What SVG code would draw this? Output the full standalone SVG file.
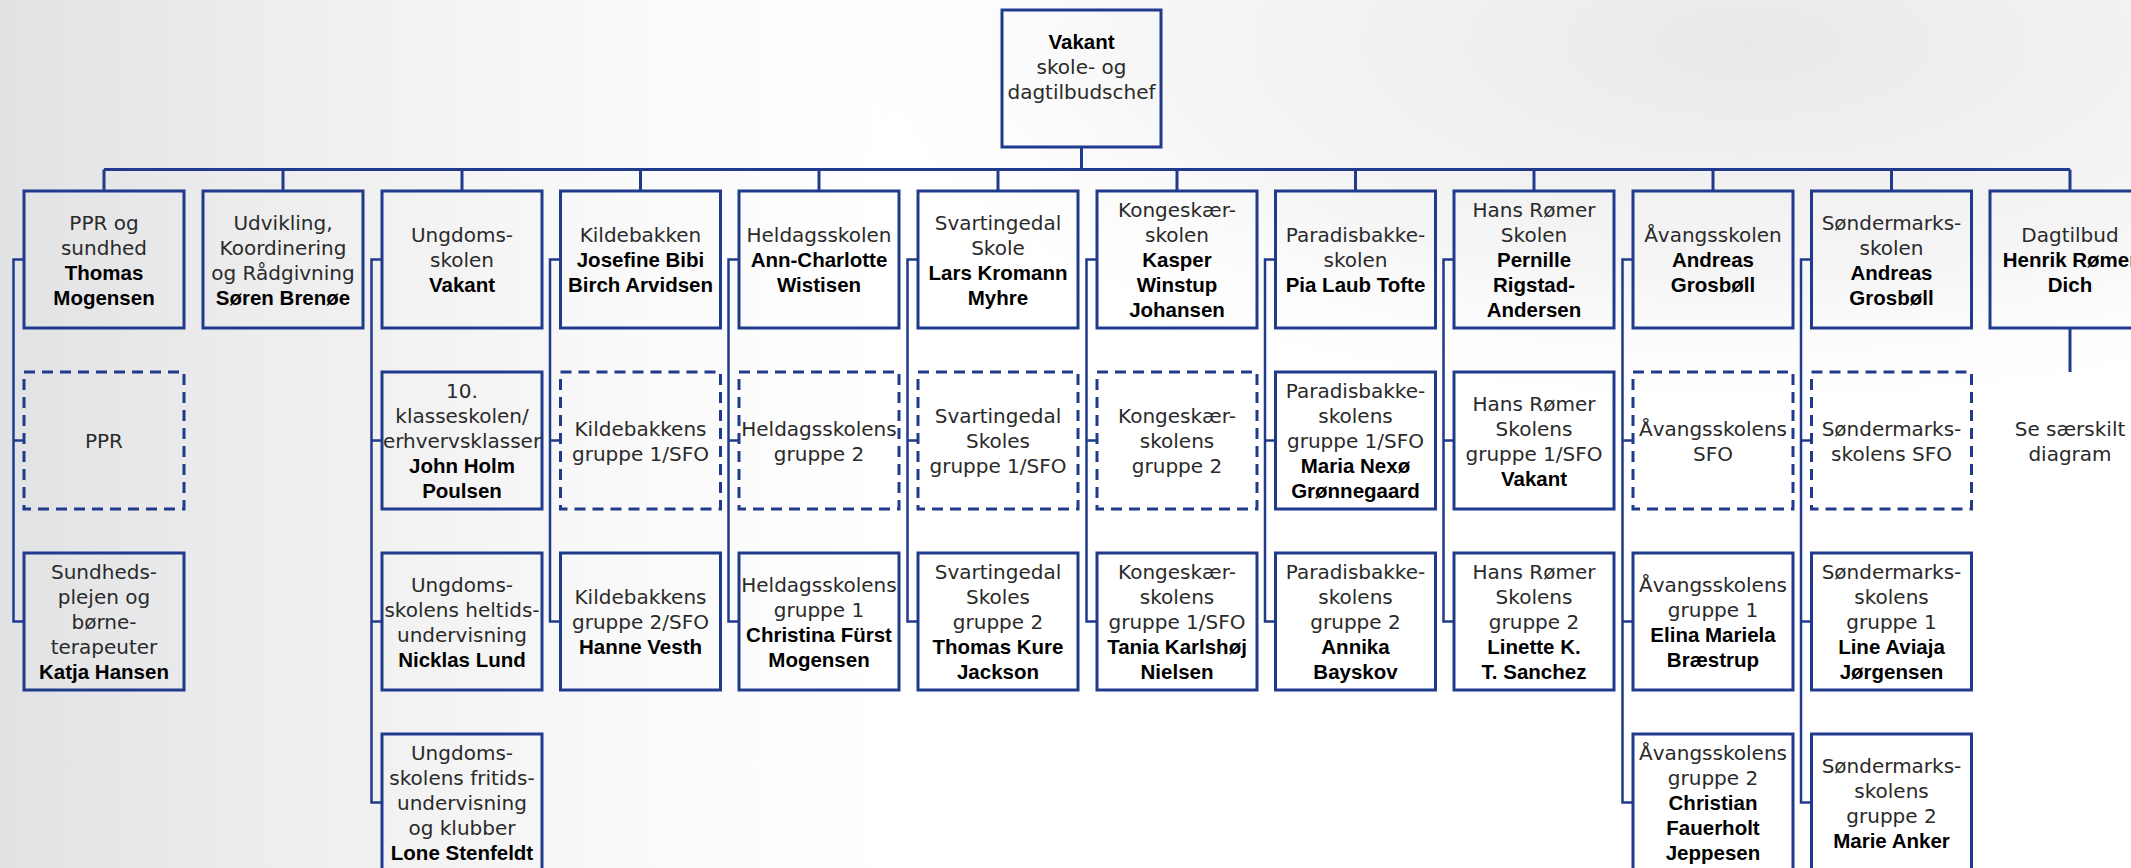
<svg xmlns="http://www.w3.org/2000/svg" width="2131" height="868" viewBox="0 0 2131 868">
<defs>
<linearGradient id="bgL" x1="0" y1="0" x2="1" y2="0">
<stop offset="0" stop-color="#e1e2e4"/>
<stop offset="0.12" stop-color="#ededee"/>
<stop offset="0.3" stop-color="#fafafa"/>
<stop offset="0.42" stop-color="#ffffff"/>
<stop offset="1" stop-color="#ffffff"/>
</linearGradient>
<radialGradient id="bgR" cx="0.82" cy="0.05" r="0.45">
<stop offset="0" stop-color="#e9e9eb" stop-opacity="1"/>
<stop offset="0.6" stop-color="#f1f1f2" stop-opacity="0.7"/>
<stop offset="1" stop-color="#ffffff" stop-opacity="0"/>
</radialGradient>
<style>
.box{fill:none;stroke:#203a8c;stroke-width:3}
.dash{stroke-dasharray:11 7}
.bus{fill:none;stroke:#203a8c;stroke-width:3}
.sub{fill:none;stroke:#203a8c;stroke-width:2.5}
.t{font-family:"DejaVu Sans","Liberation Sans",sans-serif;font-size:20px;fill:#2a2a2a;text-anchor:middle}
.b{font-family:"Liberation Sans",Arial,sans-serif;font-weight:bold;font-size:20.5px;fill:#000;text-anchor:middle}
</style>
</defs>
<rect x="0" y="0" width="2131" height="868" fill="url(#bgL)"/>
<rect x="0" y="0" width="2131" height="868" fill="url(#bgR)"/>

<g id="connectors">
<path class="bus" d="M1081.5 147 V169.5 M104 169.5 H2070 M104 169.5 V191 M283 169.5 V191 M462 169.5 V191 M640.5 169.5 V191 M819 169.5 V191 M998 169.5 V191 M1177 169.5 V191 M1355.5 169.5 V191 M1534 169.5 V191 M1713 169.5 V191 M1891.5 169.5 V191 M2070 169.5 V191"/>
<path class="sub" d="M24 259.5 H13.5 V621.5 H24 M13.5 440.5 H24"/>
<path class="sub" d="M382 259.5 H371.5 V802.5 H382 M371.5 440.5 H382 M371.5 621.5 H382"/>
<path class="sub" d="M560.5 259.5 H550 V621.5 H560.5 M550 440.5 H560.5"/>
<path class="sub" d="M739 259.5 H728.5 V621.5 H739 M728.5 440.5 H739"/>
<path class="sub" d="M918 259.5 H907.5 V621.5 H918 M907.5 440.5 H918"/>
<path class="sub" d="M1097 259.5 H1086.5 V621.5 H1097 M1086.5 440.5 H1097"/>
<path class="sub" d="M1275.5 259.5 H1265 V621.5 H1275.5 M1265 440.5 H1275.5"/>
<path class="sub" d="M1454 259.5 H1443.5 V621.5 H1454 M1443.5 440.5 H1454"/>
<path class="sub" d="M1633 259.5 H1622.5 V802.5 H1633 M1622.5 440.5 H1633 M1622.5 621.5 H1633"/>
<path class="sub" d="M1811.5 259.5 H1801 V802.5 H1811.5 M1801 440.5 H1811.5 M1801 621.5 H1811.5"/>
<path class="bus" d="M2070 328 V372"/>
</g>

<g id="chef">
<rect class="box" x="1002" y="10" width="159" height="137"/>
<text class="b" x="1081.5" y="49">Vakant</text>
<text class="t" x="1081.5" y="74">skole- og</text>
<text class="t" x="1081.5" y="99">dagtilbudschef</text>
</g>

<g id="ppr-sundhed">
<rect class="box" x="24" y="191" width="160" height="137"/>
<text class="t" x="104" y="229.5">PPR og</text>
<text class="t" x="104" y="254.5">sundhed</text>
<text class="b" x="104" y="279.5">Thomas</text>
<text class="b" x="104" y="304.5">Mogensen</text>
</g>
<g id="ppr">
<rect class="box dash" x="24" y="372" width="160" height="137"/>
<text class="t" x="104" y="448">PPR</text>
</g>
<g id="sundhedsplejen">
<rect class="box" x="24" y="553" width="160" height="137"/>
<text class="t" x="104" y="579">Sundheds-</text>
<text class="t" x="104" y="604">plejen og</text>
<text class="t" x="104" y="629">børne-</text>
<text class="t" x="104" y="654">terapeuter</text>
<text class="b" x="104" y="679">Katja Hansen</text>
</g>

<g id="udvikling">
<rect class="box" x="203" y="191" width="160" height="137"/>
<text class="t" x="283" y="229.5">Udvikling,</text>
<text class="t" x="283" y="254.5">Koordinering</text>
<text class="t" x="283" y="279.5">og Rådgivning</text>
<text class="b" x="283" y="304.5">Søren Brenøe</text>
</g>

<g id="ungdomsskolen">
<rect class="box" x="382" y="191" width="160" height="137"/>
<text class="t" x="462" y="242">Ungdoms-</text>
<text class="t" x="462" y="267">skolen</text>
<text class="b" x="462" y="292">Vakant</text>
</g>
<g id="klasseskolen">
<rect class="box" x="382" y="372" width="160" height="137"/>
<text class="t" x="462" y="398">10.</text>
<text class="t" x="462" y="423">klasseskolen/</text>
<text class="t" x="462" y="448">erhvervsklasser</text>
<text class="b" x="462" y="473">John Holm</text>
<text class="b" x="462" y="498">Poulsen</text>
</g>
<g id="ungdom-heltid">
<rect class="box" x="382" y="553" width="160" height="137"/>
<text class="t" x="462" y="591.5">Ungdoms-</text>
<text class="t" x="462" y="616.5">skolens heltids-</text>
<text class="t" x="462" y="641.5">undervisning</text>
<text class="b" x="462" y="666.5">Nicklas Lund</text>
</g>
<g id="ungdom-fritid">
<rect class="box" x="382" y="734" width="160" height="137"/>
<text class="t" x="462" y="760">Ungdoms-</text>
<text class="t" x="462" y="785">skolens fritids-</text>
<text class="t" x="462" y="810">undervisning</text>
<text class="t" x="462" y="835">og klubber</text>
<text class="b" x="462" y="860">Lone Stenfeldt</text>
</g>

<g id="kildebakken">
<rect class="box" x="560.5" y="191" width="160" height="137"/>
<text class="t" x="640.5" y="242">Kildebakken</text>
<text class="b" x="640.5" y="267">Josefine Bibi</text>
<text class="b" x="640.5" y="292">Birch Arvidsen</text>
</g>
<g id="kildebakken-g1">
<rect class="box dash" x="560.5" y="372" width="160" height="137"/>
<text class="t" x="640.5" y="435.5">Kildebakkens</text>
<text class="t" x="640.5" y="460.5">gruppe 1/SFO</text>
</g>
<g id="kildebakken-g2">
<rect class="box" x="560.5" y="553" width="160" height="137"/>
<text class="t" x="640.5" y="604">Kildebakkens</text>
<text class="t" x="640.5" y="629">gruppe 2/SFO</text>
<text class="b" x="640.5" y="654">Hanne Vesth</text>
</g>

<g id="heldagsskolen">
<rect class="box" x="739" y="191" width="160" height="137"/>
<text class="t" x="819" y="242">Heldagsskolen</text>
<text class="b" x="819" y="267">Ann-Charlotte</text>
<text class="b" x="819" y="292">Wistisen</text>
</g>
<g id="heldag-g2">
<rect class="box dash" x="739" y="372" width="160" height="137"/>
<text class="t" x="819" y="435.5">Heldagsskolens</text>
<text class="t" x="819" y="460.5">gruppe 2</text>
</g>
<g id="heldag-g1">
<rect class="box" x="739" y="553" width="160" height="137"/>
<text class="t" x="819" y="591.5">Heldagsskolens</text>
<text class="t" x="819" y="616.5">gruppe 1</text>
<text class="b" x="819" y="641.5">Christina Fürst</text>
<text class="b" x="819" y="666.5">Mogensen</text>
</g>

<g id="svartingedal">
<rect class="box" x="918" y="191" width="160" height="137"/>
<text class="t" x="998" y="229.5">Svartingedal</text>
<text class="t" x="998" y="254.5">Skole</text>
<text class="b" x="998" y="279.5">Lars Kromann</text>
<text class="b" x="998" y="304.5">Myhre</text>
</g>
<g id="svartingedal-g1">
<rect class="box dash" x="918" y="372" width="160" height="137"/>
<text class="t" x="998" y="423">Svartingedal</text>
<text class="t" x="998" y="448">Skoles</text>
<text class="t" x="998" y="473">gruppe 1/SFO</text>
</g>
<g id="svartingedal-g2">
<rect class="box" x="918" y="553" width="160" height="137"/>
<text class="t" x="998" y="579">Svartingedal</text>
<text class="t" x="998" y="604">Skoles</text>
<text class="t" x="998" y="629">gruppe 2</text>
<text class="b" x="998" y="654">Thomas Kure</text>
<text class="b" x="998" y="679">Jackson</text>
</g>

<g id="kongeskaer">
<rect class="box" x="1097" y="191" width="160" height="137"/>
<text class="t" x="1177" y="217">Kongeskær-</text>
<text class="t" x="1177" y="242">skolen</text>
<text class="b" x="1177" y="267">Kasper</text>
<text class="b" x="1177" y="292">Winstup</text>
<text class="b" x="1177" y="317">Johansen</text>
</g>
<g id="kongeskaer-g2">
<rect class="box dash" x="1097" y="372" width="160" height="137"/>
<text class="t" x="1177" y="423">Kongeskær-</text>
<text class="t" x="1177" y="448">skolens</text>
<text class="t" x="1177" y="473">gruppe 2</text>
</g>
<g id="kongeskaer-g1">
<rect class="box" x="1097" y="553" width="160" height="137"/>
<text class="t" x="1177" y="579">Kongeskær-</text>
<text class="t" x="1177" y="604">skolens</text>
<text class="t" x="1177" y="629">gruppe 1/SFO</text>
<text class="b" x="1177" y="654">Tania Karlshøj</text>
<text class="b" x="1177" y="679">Nielsen</text>
</g>

<g id="paradisbakke">
<rect class="box" x="1275.5" y="191" width="160" height="137"/>
<text class="t" x="1355.5" y="242">Paradisbakke-</text>
<text class="t" x="1355.5" y="267">skolen</text>
<text class="b" x="1355.5" y="292">Pia Laub Tofte</text>
</g>
<g id="paradisbakke-g1">
<rect class="box" x="1275.5" y="372" width="160" height="137"/>
<text class="t" x="1355.5" y="398">Paradisbakke-</text>
<text class="t" x="1355.5" y="423">skolens</text>
<text class="t" x="1355.5" y="448">gruppe 1/SFO</text>
<text class="b" x="1355.5" y="473">Maria Nexø</text>
<text class="b" x="1355.5" y="498">Grønnegaard</text>
</g>
<g id="paradisbakke-g2">
<rect class="box" x="1275.5" y="553" width="160" height="137"/>
<text class="t" x="1355.5" y="579">Paradisbakke-</text>
<text class="t" x="1355.5" y="604">skolens</text>
<text class="t" x="1355.5" y="629">gruppe 2</text>
<text class="b" x="1355.5" y="654">Annika</text>
<text class="b" x="1355.5" y="679">Bayskov</text>
</g>

<g id="hansromer">
<rect class="box" x="1454" y="191" width="160" height="137"/>
<text class="t" x="1534" y="217">Hans Rømer</text>
<text class="t" x="1534" y="242">Skolen</text>
<text class="b" x="1534" y="267">Pernille</text>
<text class="b" x="1534" y="292">Rigstad-</text>
<text class="b" x="1534" y="317">Andersen</text>
</g>
<g id="hansromer-g1">
<rect class="box" x="1454" y="372" width="160" height="137"/>
<text class="t" x="1534" y="410.5">Hans Rømer</text>
<text class="t" x="1534" y="435.5">Skolens</text>
<text class="t" x="1534" y="460.5">gruppe 1/SFO</text>
<text class="b" x="1534" y="485.5">Vakant</text>
</g>
<g id="hansromer-g2">
<rect class="box" x="1454" y="553" width="160" height="137"/>
<text class="t" x="1534" y="579">Hans Rømer</text>
<text class="t" x="1534" y="604">Skolens</text>
<text class="t" x="1534" y="629">gruppe 2</text>
<text class="b" x="1534" y="654">Linette K.</text>
<text class="b" x="1534" y="679">T. Sanchez</text>
</g>

<g id="avangsskolen">
<rect class="box" x="1633" y="191" width="160" height="137"/>
<text class="t" x="1713" y="242">Åvangsskolen</text>
<text class="b" x="1713" y="267">Andreas</text>
<text class="b" x="1713" y="292">Grosbøll</text>
</g>
<g id="avangs-sfo">
<rect class="box dash" x="1633" y="372" width="160" height="137"/>
<text class="t" x="1713" y="435.5">Åvangsskolens</text>
<text class="t" x="1713" y="460.5">SFO</text>
</g>
<g id="avangs-g1">
<rect class="box" x="1633" y="553" width="160" height="137"/>
<text class="t" x="1713" y="591.5">Åvangsskolens</text>
<text class="t" x="1713" y="616.5">gruppe 1</text>
<text class="b" x="1713" y="641.5">Elina Mariela</text>
<text class="b" x="1713" y="666.5">Bræstrup</text>
</g>
<g id="avangs-g2">
<rect class="box" x="1633" y="734" width="160" height="137"/>
<text class="t" x="1713" y="760">Åvangsskolens</text>
<text class="t" x="1713" y="785">gruppe 2</text>
<text class="b" x="1713" y="810">Christian</text>
<text class="b" x="1713" y="835">Fauerholt</text>
<text class="b" x="1713" y="860">Jeppesen</text>
</g>

<g id="sondermarks">
<rect class="box" x="1811.5" y="191" width="160" height="137"/>
<text class="t" x="1891.5" y="229.5">Søndermarks-</text>
<text class="t" x="1891.5" y="254.5">skolen</text>
<text class="b" x="1891.5" y="279.5">Andreas</text>
<text class="b" x="1891.5" y="304.5">Grosbøll</text>
</g>
<g id="sondermarks-sfo">
<rect class="box dash" x="1811.5" y="372" width="160" height="137"/>
<text class="t" x="1891.5" y="435.5">Søndermarks-</text>
<text class="t" x="1891.5" y="460.5">skolens SFO</text>
</g>
<g id="sondermarks-g1">
<rect class="box" x="1811.5" y="553" width="160" height="137"/>
<text class="t" x="1891.5" y="579">Søndermarks-</text>
<text class="t" x="1891.5" y="604">skolens</text>
<text class="t" x="1891.5" y="629">gruppe 1</text>
<text class="b" x="1891.5" y="654">Line Aviaja</text>
<text class="b" x="1891.5" y="679">Jørgensen</text>
</g>
<g id="sondermarks-g2">
<rect class="box" x="1811.5" y="734" width="160" height="137"/>
<text class="t" x="1891.5" y="772.5">Søndermarks-</text>
<text class="t" x="1891.5" y="797.5">skolens</text>
<text class="t" x="1891.5" y="822.5">gruppe 2</text>
<text class="b" x="1891.5" y="847.5">Marie Anker</text>
</g>

<g id="dagtilbud">
<rect class="box" x="1990" y="191" width="160" height="137"/>
<text class="t" x="2070" y="242">Dagtilbud</text>
<text class="b" x="2070" y="267">Henrik Rømer</text>
<text class="b" x="2070" y="292">Dich</text>
</g>
<g id="dagtilbud-note">
<text class="t" x="2070" y="435.5">Se særskilt</text>
<text class="t" x="2070" y="460.5">diagram</text>
</g>
</svg>
